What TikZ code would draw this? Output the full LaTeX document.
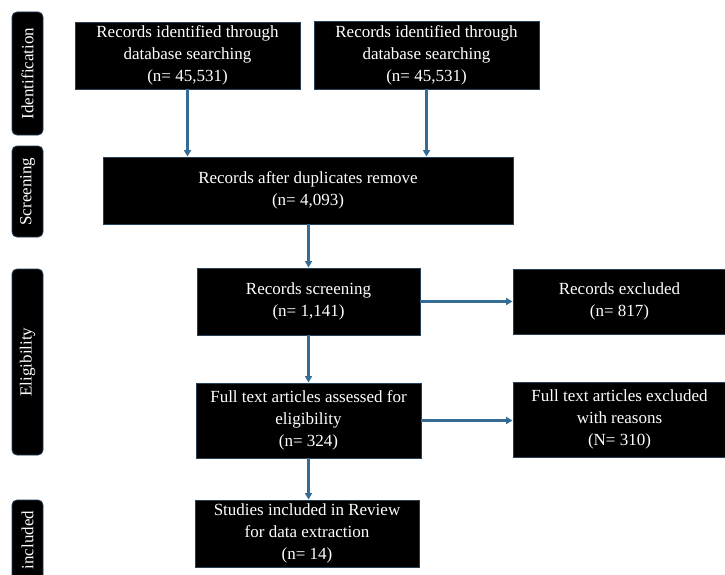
\documentclass[tikz,border=0pt]{standalone}
\usepackage{fontspec}
\setmainfont{Liberation Serif}
\usetikzlibrary{arrows.meta}
\definecolor{edgeblue}{RGB}{38,64,88}
\definecolor{arrowblue}{RGB}{52,108,148}

\begin{document}
\begin{tikzpicture}[x=1pt,y=-1pt,
  box/.style={rectangle, fill=black, draw=edgeblue, line width=0.9pt, text=white,
    align=center, inner sep=0pt, font=\fontsize{17}{22}\selectfont},
  phase/.style={rectangle, rounded corners=5pt, fill=black, draw=edgeblue, line width=0.9pt,
    text=white, rotate=90, inner sep=0pt, minimum height=31pt, font=\fontsize{17}{20}\selectfont},
  flow/.style={-{Triangle[length=6.5pt,width=7pt]}, draw=arrowblue, line width=2.3pt}]
\useasboundingbox (0,0) rectangle (725,575);
% phase labels
\node [phase, minimum width=123pt] (ident) at (27.5,73.5) {Identification};
\node [phase, minimum width=91pt] (screen) at (27.5,191.5) {Screening};
\node [phase, minimum width=186pt] (elig) at (27.5,362) {Eligibility};
\node [phase, minimum width=80pt] (incl) at (27.5,540) {included};
% boxes
\node [box, minimum width=225pt, minimum height=67pt] (id1) at (187.5,55.5) {Records identified through\\database searching\\(n= 45,531)};
\node [box, minimum width=225pt, minimum height=68pt] (id2) at (426.5,55) {Records identified through\\database searching\\(n= 45,531)};
\node [box, minimum width=410pt, minimum height=67pt] (dup) at (308,190.5) {Records after duplicates remove\\(n= 4,093)};
\node [box, minimum width=223pt, minimum height=67pt] (scr) at (308.5,301.5) {Records screening\\(n= 1,141)};
\node [box, minimum width=213pt, minimum height=65pt] (exc) at (619.5,301.5) {Records excluded\\(n= 817)};
\node [box, minimum width=225pt, minimum height=75pt] (full) at (308.5,420.5) {Full text articles assessed for\\eligibility\\(n= 324)};
\node [box, minimum width=213pt, minimum height=75pt] (excr) at (619.5,419.5) {Full text articles excluded\\with reasons\\(N= 310)};
\node [box, minimum width=224pt, minimum height=67pt] (inc) at (307,533.5) {Studies included in Review\\for data extraction\\(n= 14)};
% arrows
\draw [flow] (id1.south) -- (id1.south |- dup.north);
\draw [flow] (id2.south) -- (id2.south |- dup.north);
\draw [flow] (scr.north |- dup.south) -- (scr.north);
\draw [flow] (scr.east) -- (scr.east -| exc.west);
\draw [flow] (scr.south) -- (scr.south |- full.north);
\draw [flow] (full.east) -- (full.east -| excr.west);
\draw [flow] (full.south) -- (full.south |- inc.north);
\end{tikzpicture}
\end{document}
